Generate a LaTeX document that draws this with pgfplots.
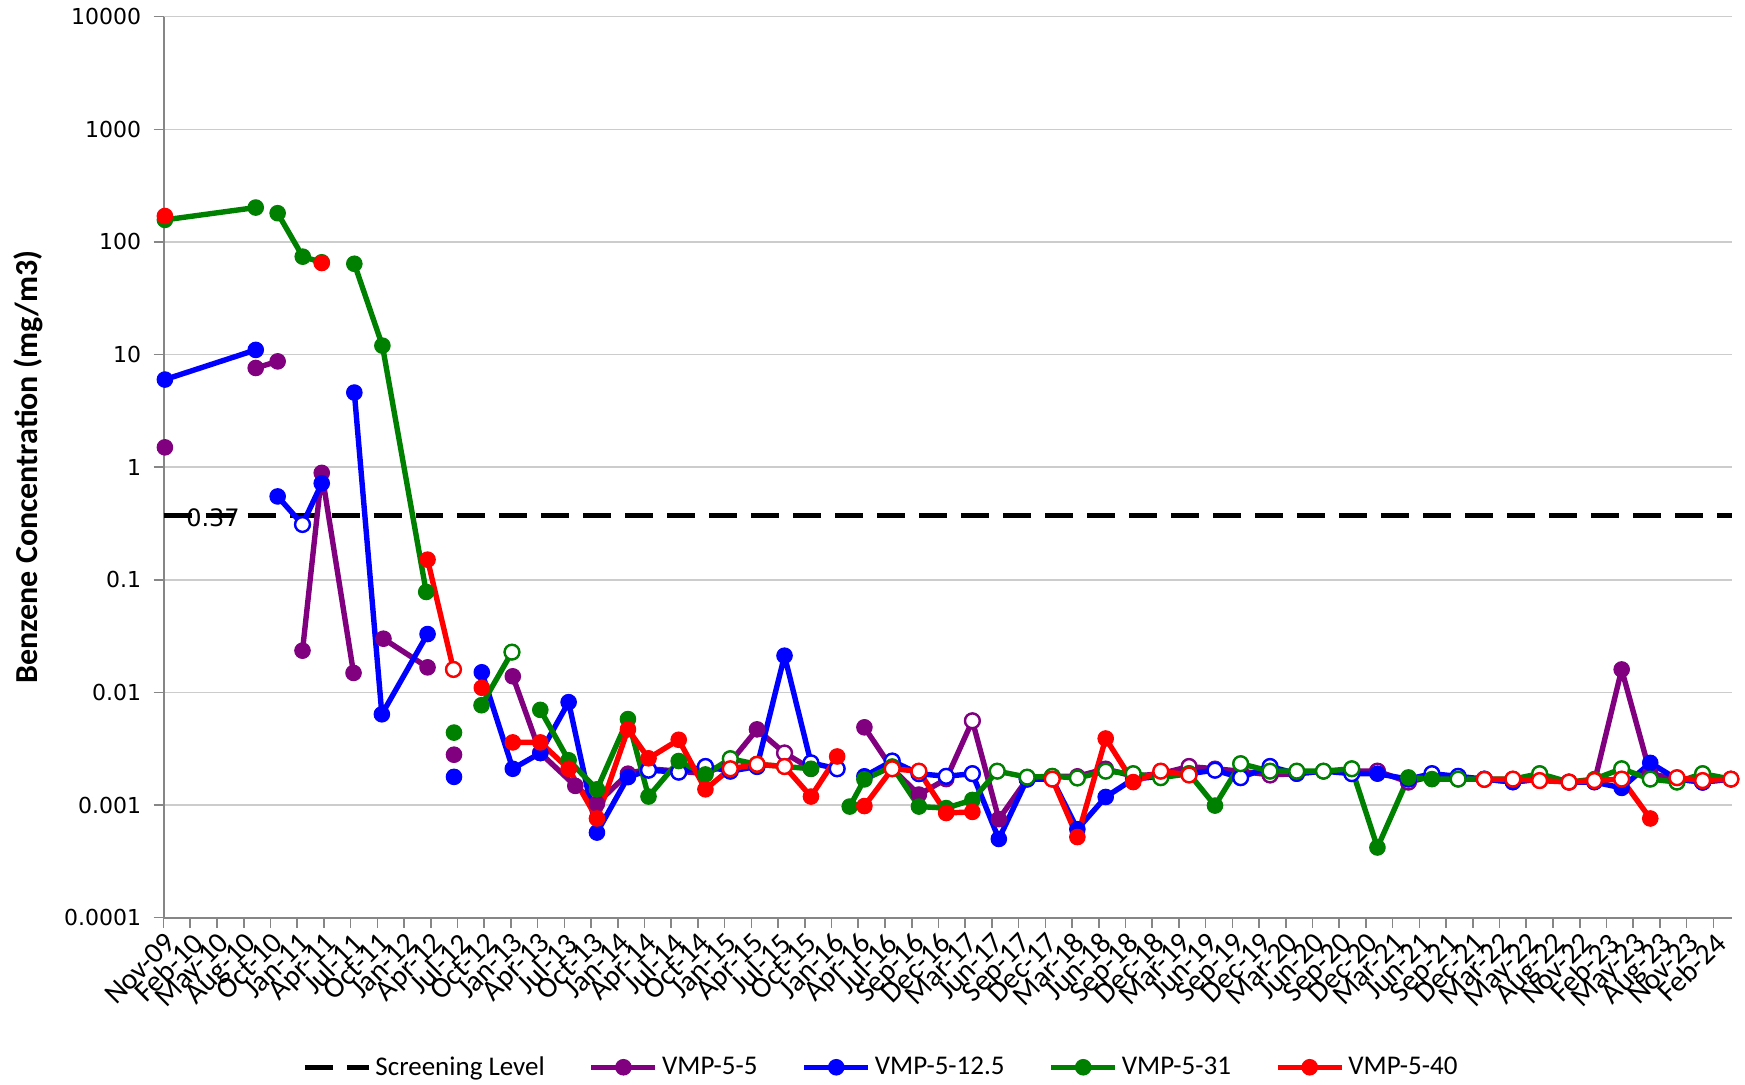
\documentclass[border=0pt]{standalone}
\usepackage{fontspec}
\setmainfont{Carlito}
\newfontfamily\dejavu{DejaVu Sans}
\usepackage{pgfplots}
\pgfplotsset{compat=1.18}
\definecolor{cpurple}{RGB}{128,0,128}
\definecolor{cblue}{RGB}{0,0,255}
\definecolor{cgreen}{RGB}{0,128,0}
\definecolor{cred}{RGB}{255,0,0}
\definecolor{gridgray}{RGB}{204,204,204}
\definecolor{axgray}{RGB}{134,134,134}
\pgfplotsset{
  ser/.style={color=#1, line width=2.7pt, line join=round, mark=*, mark size=3.9pt,
    mark options={solid, fill=#1, draw=#1, line width=0.5pt}},
  opn/.style={forget plot, only marks, mark=*, mark size=3.7pt,
    mark options={solid, fill=white, draw=#1, line width=1.2pt}},
}
\begin{document}
\begin{tikzpicture}
\begin{axis}[
  scale only axis, width=784.4pt, height=450.6pt,
  ymode=log, ymin=1e-4, ymax=1e4, yminorticks=false,
  xmin=0, xmax=58.7,
  axis x line*=bottom, axis y line*=left,
  axis line style={axgray, line width=1pt},
  tick align=outside, major tick length=5pt,
  major tick style={axgray, line width=0.8pt},
  ymajorgrids, major grid style={gridgray, line width=0.8pt},
  xtick={0,...,58},
  xticklabels={Nov-09,Feb-10,May-10,Aug-10,Oct-10,Jan-11,Apr-11,Jul-11,Oct-11,Jan-12,Apr-12,Jul-12,Oct-12,Jan-13,Apr-13,Jul-13,Oct-13,Jan-14,Apr-14,Jul-14,Oct-14,Jan-15,Apr-15,Jul-15,Oct-15,Jan-16,Apr-16,Jul-16,Sep-16,Dec-16,Mar-17,Jun-17,Sep-17,Dec-17,Mar-18,Jun-18,Sep-18,Dec-18,Mar-19,Jun-19,Sep-19,Dec-19,Mar-20,Jun-20,Sep-20,Dec-20,Mar-21,Jun-21,Sep-21,Dec-21,Mar-22,May-22,Aug-22,Nov-22,Feb-23,May-23,Aug-23,Nov-23,Feb-24},
  xticklabel style={rotate=45, anchor=north east, font=\fontsize{14.8}{15}\selectfont, inner sep=1pt},
  ytick={1e-4,1e-3,1e-2,1e-1,1,10,100,1000,10000},
  yticklabels={0.0001,0.001,0.01,0.1,1,10,100,1000,10000},
  yticklabel style={font=\dejavu\fontsize{11}{13}\selectfont, inner sep=2pt, xshift=-4pt},
  ylabel={Benzene Concentration (mg/m3)},
  ylabel style={font=\fontsize{16}{19}\selectfont\bfseries, at={(axis description cs:-0.0864,0.5)}, anchor=center},
  legend style={at={(0.458,-0.166)}, anchor=center, legend columns=5, draw=none, fill=none,
    font=\fontsize{13.5}{14}\selectfont,
    /tikz/every even column/.append style={column sep=20pt}},
  legend image code/.code={\draw[mark repeat=2,mark phase=2,#1] plot coordinates {(0pt,0pt) (16pt,0pt) (32pt,0pt)};},
  unbounded coords=jump,
  clip=false,
]
% Screening level
\addplot[black, line width=2.6pt, dash pattern=on 14pt off 7pt] coordinates {(0,0.37) (58.7,0.37)};
\addlegendentry{Screening Level}

% VMP-5-5
\addplot[ser=cpurple] coordinates {
(0.05,1.5) (1,nan)
(3.45,7.6) (4.27,8.7) (4.8,nan)
(5.2,0.0235) (5.92,0.89) (7.11,0.0149) (7.6,nan)
(8.23,0.030) (9.88,0.0167) (10.3,nan)
(10.87,0.0028) (11.5,nan)
(13.07,0.0139) (14.1,0.0029) (15.41,0.00148) (16.22,0.00103) (17.38,0.0019) (18.15,0.0021) (19.28,0.002) (20.28,0.0019) (21.21,0.0024) (22.21,0.0047) (23.24,0.0029) (24.23,0.0021) (25.5,nan)
(26.23,0.0049) (27.27,0.0021) (28.27,0.00124) (29.29,0.0017) (30.27,0.0056) (31.26,0.00075) (32.32,0.0017) (33.26,0.0018) (34.2,0.0018) (35.26,0.0021) (36.29,0.0018) (37.32,0.0019) (38.38,0.0022) (39.35,0.0021) (40.31,0.002) (41.41,0.00185) (42.41,0.0019) (43.41,0.002) (44.47,0.002) (45.43,0.002) (46.59,0.0016) (47.47,0.0018) (48.45,0.0017) (49.43,0.0017) (50.5,0.0016) (51.5,0.0017) (52.6,0.0016) (53.55,0.0016) (54.57,0.016) (55.64,0.0019) (56.64,0.0017) (57.6,0.0016) (58.66,0.0017)
};
\addlegendentry{VMP-5-5}
\addplot[opn=cpurple] coordinates {(23.24,0.0029) (30.27,0.0056) (38.38,0.0022) (41.41,0.00185) (45.43,0.002) (46.59,0.0016) (52.6,0.0016) (57.6,0.0016)};

% VMP-5-12.5
\addplot[ser=cblue] coordinates {
(0.05,6.0) (3.45,11) (3.9,nan)
(4.27,0.55) (5.2,0.31) (5.92,0.72) (6.5,nan)
(7.14,4.6) (8.17,0.0064) (9.88,0.033) (10.3,nan)
(10.87,0.00178) (11.4,nan)
(11.91,0.0151) (13.07,0.0021) (14.1,0.0029) (15.16,0.0082) (16.22,0.00057) (17.38,0.00177) (18.15,0.00204) (19.28,0.00196) (20.28,0.0022) (21.21,0.002) (22.21,0.0022) (23.24,0.0212) (24.23,0.00237) (25.21,0.0021) (25.7,nan)
(26.23,0.0018) (27.27,0.00246) (28.27,0.0019) (29.29,0.0018) (30.27,0.0019) (31.26,0.0005) (32.32,0.0017) (33.26,0.0017) (34.2,0.00061) (35.26,0.00118) (36.29,0.0017) (37.32,0.0018) (38.38,0.0019) (39.35,0.00204) (40.31,0.00175) (41.41,0.0022) (42.41,0.0019) (43.41,0.002) (44.47,0.0019) (45.43,0.0019) (46.59,0.0017) (47.47,0.0019) (48.45,0.0018) (49.43,0.0017) (50.5,0.0016) (51.5,0.0017) (52.6,0.0016) (53.55,0.0016) (54.57,0.00142) (55.64,0.00237) (56.64,0.0017) (57.6,0.0016) (58.66,0.0017)
};
\addlegendentry{VMP-5-12.5}
\addplot[opn=cblue] coordinates {(5.2,0.31) (18.15,0.00204) (19.28,0.00196) (20.28,0.0022) (21.21,0.002) (22.21,0.0022) (24.23,0.00237) (25.21,0.0021) (27.27,0.00246) (28.27,0.0019) (29.29,0.0018) (30.27,0.0019) (32.32,0.0017) (39.35,0.00204) (40.31,0.00175) (41.41,0.0022) (44.47,0.0019) (46.59,0.0017) (47.47,0.0019) (48.45,0.0018) (49.43,0.0017) (57.6,0.0016)};

% VMP-5-31
\addplot[ser=cgreen] coordinates {
(0.05,157) (3.45,202) (3.9,nan)
(4.27,180) (5.21,74) (5.92,66) (6.5,nan)
(7.14,64) (8.19,12) (9.83,0.078) (10.3,nan)
(10.87,0.0044) (11.4,nan)
(11.9,0.0077) (13.04,0.0228) (13.5,nan)
(14.1,0.0070) (15.16,0.0025) (16.22,0.00138) (17.38,0.0058) (18.15,0.00119) (19.28,0.00246) (20.28,0.00187) (21.21,0.00258) (22.21,0.0023) (23.24,0.0022) (24.23,0.0021) (25.0,nan)
(25.68,0.00097) (26.23,0.00169) (27.27,0.0022) (28.27,0.00097) (29.29,0.00094) (30.27,0.00111) (31.2,0.002) (32.32,0.00177) (33.26,0.0018) (34.2,0.00174) (35.26,0.002) (36.29,0.0019) (37.32,0.00175) (38.38,0.0019) (39.35,0.00099) (40.31,0.00233) (41.41,0.002) (42.41,0.002) (43.41,0.002) (44.47,0.0021) (45.43,0.00042) (46.59,0.00176) (47.47,0.0017) (48.45,0.0017) (49.43,0.0017) (50.5,0.0017) (51.5,0.0019) (52.6,0.0016) (53.55,0.0017) (54.57,0.0021) (55.64,0.0017) (56.64,0.0016) (57.6,0.0019) (58.66,0.0017)
};
\addlegendentry{VMP-5-31}
\addplot[opn=cgreen] coordinates {(13.04,0.0228) (21.21,0.00258) (22.21,0.0023) (31.2,0.002) (32.32,0.00177) (33.26,0.0018) (34.2,0.00174) (35.26,0.002) (36.29,0.0019) (37.32,0.00175) (38.38,0.0019) (40.31,0.00233) (41.41,0.002) (42.41,0.002) (43.41,0.002) (44.47,0.0021) (48.45,0.0017) (51.5,0.0019) (54.57,0.0021) (55.64,0.0017) (56.64,0.0016) (57.6,0.0019)};

% VMP-5-40
\addplot[ser=cred] coordinates {
(0.05,170) (1,nan)
(5.92,65) (6.5,nan)
(9.88,0.151) (10.85,0.016) (11.3,nan)
(11.91,0.011) (12.4,nan)
(13.07,0.0036) (14.1,0.0036) (15.16,0.0021) (16.22,0.00076) (17.38,0.0047) (18.15,0.0026) (19.28,0.0038) (20.28,0.00138) (21.21,0.0021) (22.21,0.0023) (23.24,0.0022) (24.23,0.00119) (25.21,0.0027) (25.7,nan)
(26.23,0.00098) (27.27,0.0021) (28.27,0.002) (29.29,0.00085) (30.27,0.00087) (31,nan)
(33.26,0.0017) (34.2,0.00052) (35.26,0.0039) (36.29,0.0016) (37.32,0.002) (38.38,0.00185) (39,nan)
(49.43,0.00169) (50.5,0.0017) (51.5,0.00165) (52.6,0.0016) (53.55,0.00165) (54.57,0.0017) (55.64,0.00076) (56.1,nan)
(56.64,0.00175) (57.6,0.00165) (58.66,0.0017)
};
\addlegendentry{VMP-5-40}
\addplot[opn=cred] coordinates {(10.85,0.016) (21.21,0.0021) (22.21,0.0023) (23.24,0.0022) (27.27,0.0021) (28.27,0.002) (33.26,0.0017) (37.32,0.002) (38.38,0.00185) (49.43,0.00169) (50.5,0.0017) (51.5,0.00165) (52.6,0.0016) (53.55,0.00165) (54.57,0.0017) (56.64,0.00175) (57.6,0.00165) (58.66,0.0017)};

\node[font=\dejavu\fontsize{12}{13}\selectfont, inner sep=0pt] at (axis cs:1.85,0.355) {0.37};
\end{axis}
\pgfresetboundingbox
\path[use as bounding box] (-81.8pt,-83.5pt) rectangle (790.9pt,458.95pt);
\end{tikzpicture}
\end{document}
